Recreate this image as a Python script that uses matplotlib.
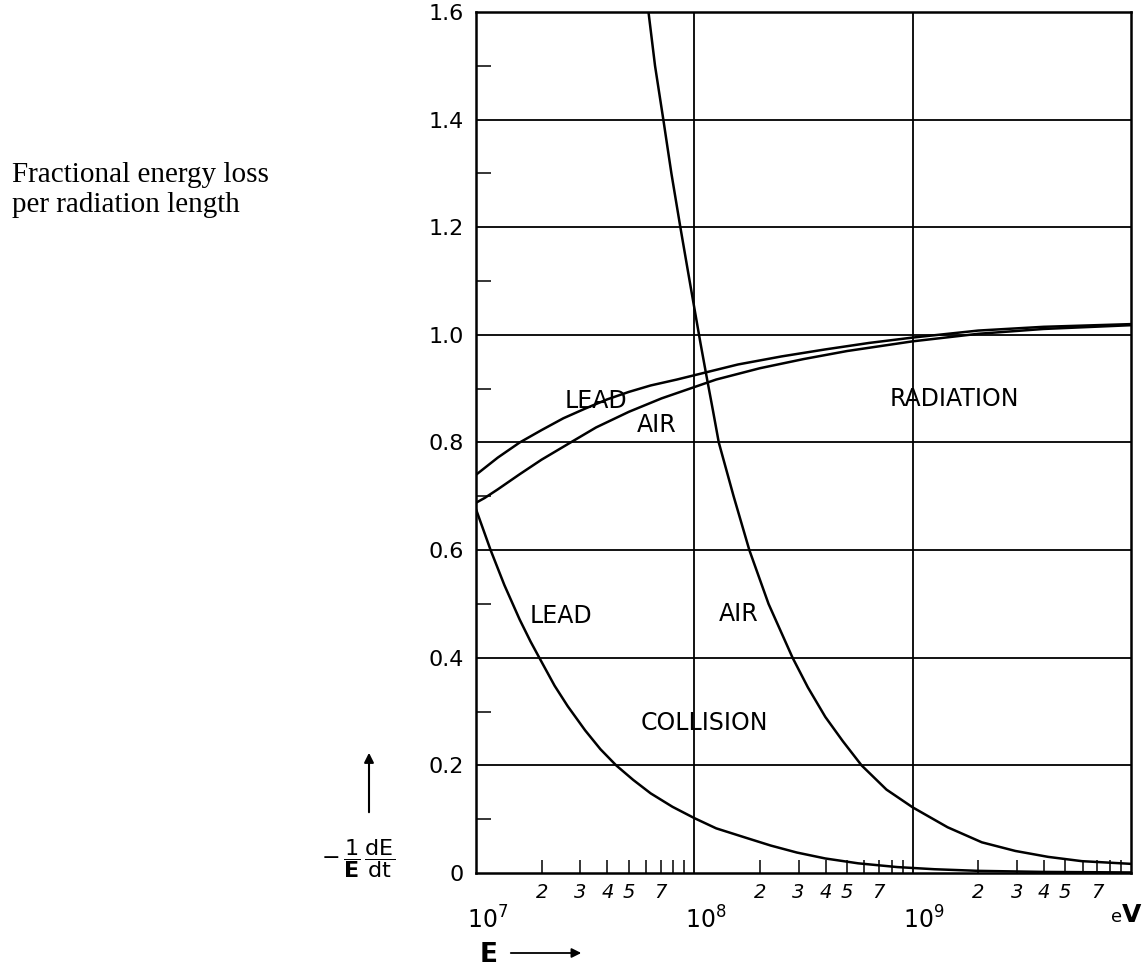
import numpy as np
import matplotlib.pyplot as plt
from matplotlib.ticker import FixedLocator, FixedFormatter, NullFormatter

# curves: log10(E / eV) and fractional energy loss
rad_lead_logE = [7.0, 7.1, 7.2, 7.3, 7.4, 7.5, 7.6, 7.7, 7.8, 7.92, 8.0, 8.2, 8.4, 8.6, 8.8, 9.0, 9.3, 9.6, 10.0]
rad_lead_v = [0.74, 0.772, 0.80, 0.823, 0.845, 0.863, 0.88, 0.894, 0.906, 0.917, 0.925, 0.945, 0.96, 0.973, 0.985, 0.995, 1.008, 1.015, 1.02]

rad_air_logE = [7.0, 7.04, 7.1, 7.2, 7.3, 7.433, 7.55, 7.7, 7.85, 8.0, 8.1, 8.3, 8.5, 8.7, 9.0, 9.3, 9.6, 10.0]
rad_air_v = [0.688, 0.697, 0.713, 0.741, 0.768, 0.80, 0.828, 0.857, 0.882, 0.903, 0.917, 0.938, 0.955, 0.97, 0.988, 1.002, 1.011, 1.018]

col_lead_logE = [7.0, 7.067, 7.13, 7.2, 7.25, 7.29, 7.36, 7.42, 7.5, 7.57, 7.642, 7.72, 7.8, 7.9, 8.0, 8.1, 8.24, 8.35, 8.47, 8.6, 8.75, 8.93, 9.1, 9.3, 9.6, 10.0]
col_lead_v = [0.676, 0.6, 0.535, 0.471, 0.43, 0.40, 0.348, 0.31, 0.265, 0.23, 0.20, 0.173, 0.148, 0.123, 0.102, 0.083, 0.065, 0.051, 0.038, 0.027, 0.018, 0.011, 0.007, 0.004, 0.002, 0.001]

col_air_logE = [7.79, 7.82, 7.858, 7.895, 7.936, 7.97, 8.0, 8.028, 8.055, 8.085, 8.112, 8.18, 8.252, 8.34, 8.45, 8.52, 8.6, 8.68, 8.766, 8.88, 9.0, 9.16, 9.317, 9.47, 9.62, 9.775, 10.0]
col_air_v = [1.6, 1.5, 1.4, 1.3, 1.2, 1.12, 1.05, 0.985, 0.925, 0.86, 0.8, 0.7, 0.6, 0.5, 0.4, 0.345, 0.29, 0.245, 0.2, 0.155, 0.122, 0.085, 0.057, 0.041, 0.03, 0.022, 0.017]

major_x = [1e7, 1e8, 1e9]
major_x_labels = [r'$10^7$', r'$10^8$', r'$10^9$']
minor_mult = [2, 3, 4, 5, 6, 7, 8, 9]
minor_shown = {2: '2', 3: '3', 4: '4', 5: '5', 7: '7'}
y_major = [0, 0.2, 0.4, 0.6, 0.8, 1.0, 1.2, 1.4, 1.6]
y_major_labels = ['0', '0.2', '0.4', '0.6', '0.8', '1.0', '1.2', '1.4', '1.6']
y_minor = [0.1, 0.3, 0.5, 0.7, 0.9, 1.1, 1.3, 1.5]

W, H = 1143, 969
fig = plt.figure(figsize=(W / 100, H / 100), dpi=100)
ax = fig.add_axes([476 / W, (H - 873) / H, 655 / W, 861 / H])

lw = 1.8
for le, v in [(rad_lead_logE, rad_lead_v), (rad_air_logE, rad_air_v),
              (col_lead_logE, col_lead_v), (col_air_logE, col_air_v)]:
    ax.plot(10 ** np.array(le), v, color='k', lw=lw, solid_joinstyle='round')

ax.set_xscale('log')
ax.set_xlim(1e7, 1e10)
ax.set_ylim(0, 1.6)

# grid
for yv in y_major[1:-1]:
    ax.axhline(yv, color='k', lw=1.3, zorder=0)
for xv in major_x[1:]:
    ax.axvline(xv, color='k', lw=1.3, zorder=0)

ax.xaxis.set_major_locator(FixedLocator(major_x))
ax.xaxis.set_major_formatter(NullFormatter())
mins = []
mlabs = []
for d in major_x:
    for m in minor_mult:
        mins.append(m * d)
        mlabs.append(minor_shown.get(m, ''))
ax.xaxis.set_minor_locator(FixedLocator(mins))
ax.xaxis.set_minor_formatter(FixedFormatter(mlabs))
ax.tick_params(axis='x', which='major', length=0)
ax.tick_params(axis='x', which='minor', direction='in', length=9.5, width=1.1,
               pad=7, labelsize=14)
for t in ax.xaxis.get_minorticklabels():
    t.set_fontstyle('italic')

# decade labels: the "10" sits on the grid line, the exponent hangs right
trans = ax.get_xaxis_transform()
for xv, lab in zip(major_x, major_x_labels):
    ax.text(xv * 0.905, -0.064, lab, transform=trans, fontsize=17,
            ha='left', va='baseline')

ax.yaxis.set_major_locator(FixedLocator(y_major))
ax.yaxis.set_major_formatter(FixedFormatter(y_major_labels))
ax.yaxis.set_minor_locator(FixedLocator(y_minor))
ax.yaxis.set_minor_formatter(NullFormatter())
ax.tick_params(axis='y', which='major', length=0, pad=9, labelsize=16)
ax.tick_params(axis='y', which='minor', direction='in', length=11, width=1.1)

for s in ax.spines.values():
    s.set_linewidth(1.8)

fs = 17
ax.text(3.55e7, 0.878, 'LEAD', fontsize=fs, ha='center', va='center')
ax.text(6.7e7, 0.833, 'AIR', fontsize=fs, ha='center', va='center')
ax.text(1.55e9, 0.88, 'RADIATION', fontsize=fs, ha='center', va='center')
ax.text(2.45e7, 0.478, 'LEAD', fontsize=fs, ha='center', va='center')
ax.text(1.6e8, 0.481, 'AIR', fontsize=fs, ha='center', va='center')
ax.text(1.11e8, 0.278, 'COLLISION', fontsize=fs, ha='center', va='center')


def fp(px, py):
    return px / W, 1 - py / H


# eV unit at the right end of the x axis
fig.text(*fp(1111, 922), 'e', fontsize=13, ha='left', va='baseline')
fig.text(*fp(1122, 922), 'V', fontsize=18, fontweight='bold', ha='left', va='baseline')

# y quantity with arrow
fig.text(*fp(358, 859), r'$-\,\dfrac{1}{\mathbf{E}}\,\dfrac{\mathrm{dE}}{\mathrm{dt}}$',
         fontsize=16, ha='center', va='center')
ax.annotate('', xy=fp(369, 750), xytext=fp(369, 815),
            xycoords='figure fraction', textcoords='figure fraction',
            arrowprops=dict(arrowstyle='-|>', color='k', lw=1.5, mutation_scale=14))

# x quantity with arrow
fig.text(*fp(480, 955), 'E', fontsize=19, fontweight='bold', ha='left', va='center')
ax.annotate('', xy=fp(584, 953), xytext=fp(508, 953),
            xycoords='figure fraction', textcoords='figure fraction',
            arrowprops=dict(arrowstyle='-|>', color='k', lw=1.3, mutation_scale=14))

fig.text(*fp(12, 182), 'Fractional energy loss', fontsize=21,
         family='Liberation Serif', ha='left', va='baseline')
fig.text(*fp(12, 212), 'per radiation length', fontsize=21,
         family='Liberation Serif', ha='left', va='baseline')

fig.savefig('out.png', dpi=100)
